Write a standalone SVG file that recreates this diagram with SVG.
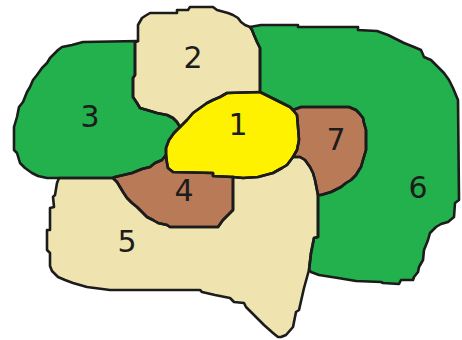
<svg xmlns="http://www.w3.org/2000/svg" xmlns:xlink="http://www.w3.org/1999/xlink" width="462" height="340" viewBox="0 0 462 340">
<style>
.green{fill:#22b14c}
.tan{fill:#efe4b0}
.yellow{fill:#fff200}
.brown{fill:#b97a57}
.edge{fill:none;stroke:#1c1c1c;stroke-width:2.6;stroke-linejoin:round}
.lbl{font-family:"DejaVu Sans",sans-serif;font-size:30px;fill:#1c1c1c;text-anchor:middle}
</style>
<defs>
<polygon id="p3" points="138,41 135,42 135,75 133,78 133,97 137,103 140,108 147,110 157,113 167,115 173,118 177,122 180,127 174,133 169,140 166,148 166,155 162,160 155,163 150,167 142,169 132,173 115,177 113,178 47,178 38,176 32,173 25,168 20,163 17,153 14,150 14,127 17,117 19,107 23,102 27,92 30,87 33,80 37,75 42,68 47,63 50,58 53,55 58,50 62,47 72,45 83,42 138,41"/>
<polygon id="p2" points="138,41 138,25 142,18 145,16 150,13 177,13 177,10 188,10 190,7 213,7 217,10 228,13 233,15 238,18 241,22 245,25 250,27 252,30 254,35 257,42 260,48 260,92 227,93 220,97 213,100 207,103 200,108 193,113 187,120 180,127 177,122 173,118 167,115 157,113 147,110 140,108 137,103 133,97 133,78 135,75 135,42"/>
<polygon id="p1" points="180,127 187,120 193,113 200,108 207,103 213,100 220,97 227,93 260,92 270,97 280,102 290,107 293,110 297,115 298,127 299,140 297,150 293,157 287,165 282,168 273,173 258,177 243,178 233,177 213,176 213,173 173,172 168,168 167,163 166,155 166,148 169,140 174,133"/>
<polygon id="p7" points="293,110 301,107 349,107 356,110 359,113 363,118 364,123 366,130 366,150 363,160 361,167 359,170 356,175 351,180 346,183 341,187 331,192 321,195 318,195 317,190 315,180 313,173 310,167 305,160 300,157 293,157 297,150 299,140 298,127 297,115"/>
<polygon id="p6" points="250,27 261,25 298,25 298,27 358,27 358,30 377,31 388,35 398,40 404,43 414,47 421,50 424,57 431,60 438,67 444,73 449,80 453,88 458,100 459,200 455,203 454,217 448,222 441,224 436,227 433,230 430,233 428,240 424,250 423,260 419,267 418,272 414,277 413,280 401,280 399,284 383,283 381,282 356,281 338,278 319,275 311,272 309,270 311,253 314,238 318,237 318,195 321,195 331,192 341,187 346,183 351,180 356,175 359,170 361,167 363,160 366,150 366,130 364,123 363,118 359,113 356,110 349,107 301,107 293,110 290,107 280,102 270,97 260,92 260,48 257,42 254,35 252,30"/>
<polygon id="p4" points="113,178 115,177 132,173 142,169 150,167 155,163 162,160 166,155 167,163 168,168 173,172 213,173 213,176 233,177 233,210 230,213 223,220 218,227 170,227 167,225 158,223 153,220 147,217 142,212 137,207 132,203 127,198 123,192 120,187 117,182"/>
<polygon id="p5" points="59,178 113,178 117,182 120,187 123,192 127,198 132,203 137,207 142,212 147,217 153,220 158,223 167,225 170,227 218,227 223,220 230,213 233,210 233,177 243,178 258,177 273,173 282,168 287,165 293,157 300,157 305,160 310,167 313,173 315,180 317,190 318,195 318,237 314,238 311,253 309,270 304,288 299,310 296,312 293,327 286,335 281,337 278,337 273,333 264,325 256,317 246,307 244,303 234,302 230,298 215,295 202,292 200,290 110,290 87,287 73,283 65,280 58,277 52,271 50,266 50,253 47,250 47,230 50,230 50,208 54,207 53,197 55,195 57,183"/>
</defs>
<g id="region-3"><use xlink:href="#p3" class="green"/><text class="lbl" x="90" y="127">3</text></g>
<g id="region-2"><use xlink:href="#p2" class="tan"/><text class="lbl" x="193" y="68">2</text></g>
<g id="region-6"><use xlink:href="#p6" class="green"/><text class="lbl" x="418" y="198">6</text></g>
<g id="region-7"><use xlink:href="#p7" class="brown"/><text class="lbl" x="336" y="150">7</text></g>
<g id="region-1"><use xlink:href="#p1" class="yellow"/><text class="lbl" x="238" y="135">1</text></g>
<g id="region-4"><use xlink:href="#p4" class="brown"/><text class="lbl" x="184" y="201">4</text></g>
<g id="region-5"><use xlink:href="#p5" class="tan"/><text class="lbl" x="127" y="252">5</text></g>
<g id="borders">
<use xlink:href="#p3" class="edge"/>
<use xlink:href="#p2" class="edge"/>
<use xlink:href="#p6" class="edge"/>
<use xlink:href="#p7" class="edge"/>
<use xlink:href="#p1" class="edge"/>
<use xlink:href="#p4" class="edge"/>
<use xlink:href="#p5" class="edge"/>
</g>
</svg>
